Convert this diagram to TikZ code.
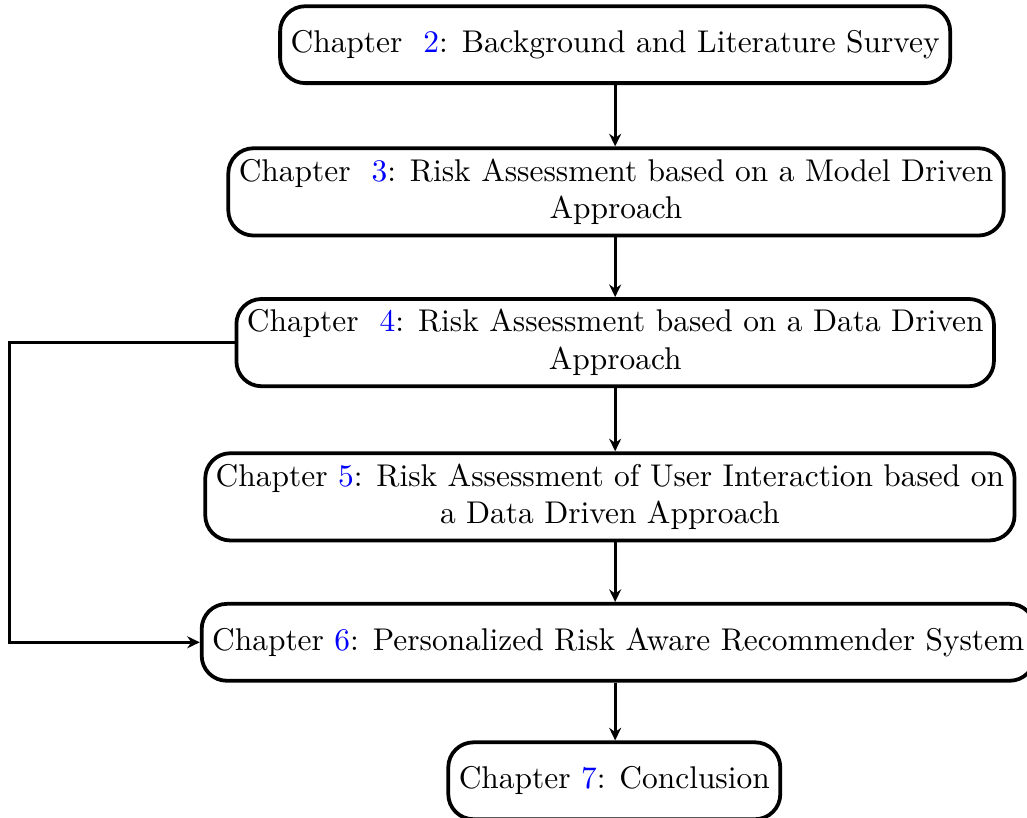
\documentclass[tikz,border=0pt]{standalone}
\usepackage{amsmath, amssymb}
\usepackage{tikz}
\usetikzlibrary{arrows.meta}
\newcommand{\chnum}[1]{\textcolor{blue}{#1}}

\begin{document}
\begin{tikzpicture}[scale=0.98, chapbox/.style={draw, very thick, rounded corners=8pt, align=center, minimum height=0.86cm}, >={Stealth[length=4pt,width=3.8pt]}]
\useasboundingbox (0,0) rectangle (11.72,9.33);

\node[chapbox] (c2) at (7.02,8.82) {Chapter~ \chnum{2}: Background and Literature Survey};
\node[chapbox] (c3) at (7.03,7.14) {Chapter~ \chnum{3}: Risk Assessment based on a Model Driven\\ Approach};
\node[chapbox] (c4) at (7.02,5.42) {Chapter~ \chnum{4}: Risk Assessment based on a Data Driven\\ Approach};
\node[chapbox] (c5) at (6.96,3.66) {Chapter \chnum{5}: Risk Assessment of User Interaction based on\\ a Data Driven Approach};
\node[chapbox, anchor=west] (c6) at (2.28,2.00) {Chapter \chnum{6}: Personalized Risk Aware Recommender System};
\node[chapbox] (c7) at (7.01,0.42) {Chapter \chnum{7}: Conclusion};

\draw[line width=0.9pt, ->] (c2.south -| 7.02,0) -- (c3.north -| 7.02,0);
\draw[line width=0.9pt, ->] (c3.south -| 7.02,0) -- (c4.north -| 7.02,0);
\draw[line width=0.9pt, ->] (c4.south -| 7.02,0) -- (c5.north -| 7.02,0);
\draw[line width=0.9pt, ->] (c5.south -| 7.02,0) -- (c6.north -| 7.02,0);
\draw[line width=0.9pt, ->] (c6.south -| 7.02,0) -- (c7.north -| 7.02,0);

\coordinate (loop) at (0.11,5.42);
\draw[line width=0.9pt, ->] (c4.west) -- (loop) |- (c6.west);
\end{tikzpicture}
\end{document}
